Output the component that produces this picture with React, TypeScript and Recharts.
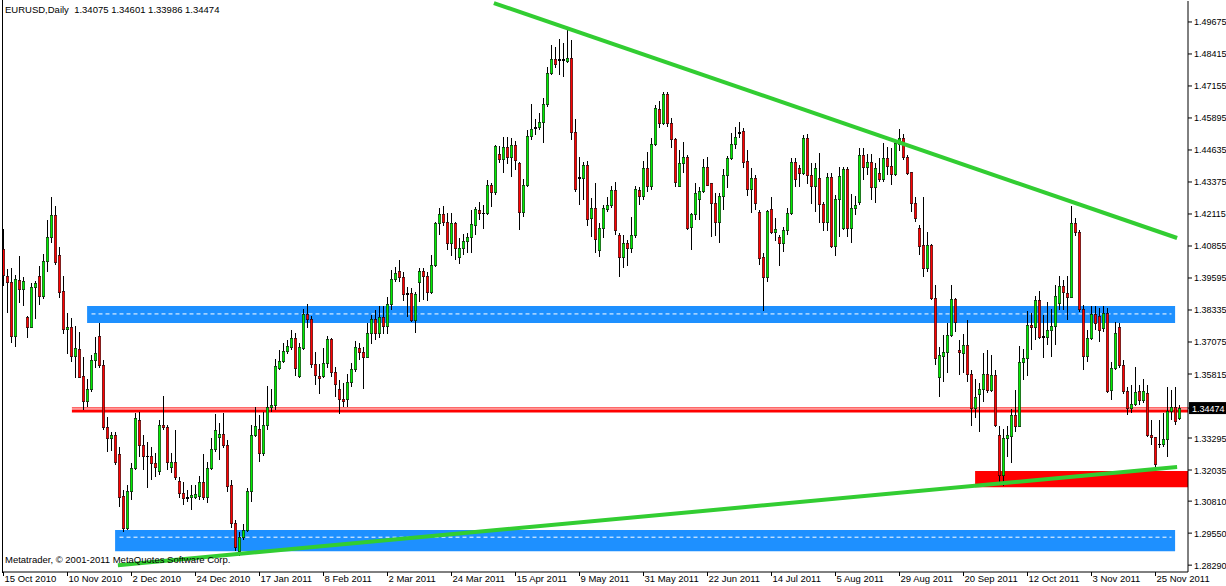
import { ComposedChart, Bar, XAxis, YAxis, ReferenceArea, ReferenceLine } from 'recharts';

const dateLabels = [
  '15 Oct 2010', '10 Nov 2010', '2 Dec 2010', '24 Dec 2010', '17 Jan 2011', '8 Feb 2011',
  '2 Mar 2011', '24 Mar 2011', '15 Apr 2011', '9 May 2011', '31 May 2011', '22 Jun 2011',
  '14 Jul 2011', '5 Aug 2011', '29 Aug 2011', '20 Sep 2011', '12 Oct 2011', '3 Nov 2011', '25 Nov 2011',
];
const dateTicks = [0, 16, 32, 48, 64, 80, 96, 112, 128, 144, 160, 176, 192, 208, 224, 240, 256, 272, 288];

const priceTicks = [
  1.49675, 1.48415, 1.47155, 1.45895, 1.44635, 1.43375, 1.42115, 1.40855, 1.39595,
  1.38335, 1.37075, 1.35815, 1.34474, 1.33295, 1.32035, 1.3081, 1.2955, 1.2829,
];
const lastBar = { open: 1.34075, high: 1.34601, low: 1.33986, close: 1.34474 };

const opens = [
  1.4074, 1.3967, 1.3944, 1.3731, 1.3951, 1.3916, 1.3806, 1.3766, 1.3924, 1.3967,
  1.3889, 1.4026, 1.4121, 1.4207, 1.4050, 1.3908, 1.3759, 1.3766, 1.3652, 1.3680,
  1.3573, 1.3475, 1.3522, 1.3636, 1.3731, 1.3617, 1.3373, 1.3329, 1.3341, 1.3266,
  1.3101, 1.2975, 1.3121, 1.3211, 1.3400, 1.3302, 1.3258, 1.3258, 1.3231, 1.3199,
  1.3380, 1.3373, 1.3215, 1.3235, 1.3160, 1.3113, 1.3097, 1.3097, 1.3097, 1.3101,
  1.3156, 1.3097, 1.3211, 1.3286, 1.3333, 1.3345, 1.3302, 1.3144, 1.2995, 1.2884,
  1.2939, 1.2967, 1.3121, 1.3341, 1.3365, 1.3270, 1.3380, 1.3451, 1.3459, 1.3605,
  1.3633, 1.3672, 1.3688, 1.3723, 1.3573, 1.3684, 1.3818, 1.3798, 1.3621, 1.3573,
  1.3573, 1.3625, 1.3719, 1.3589, 1.3522, 1.3483, 1.3483, 1.3550, 1.3601, 1.3684,
  1.3668, 1.3648, 1.3743, 1.3798, 1.3743, 1.3806, 1.3770, 1.3857, 1.3955, 1.3987,
  1.3963, 1.3896, 1.3900, 1.3794, 1.3944, 1.3987, 1.3967, 1.3904, 1.4011, 1.4176,
  1.4211, 1.4180, 1.4097, 1.4176, 1.4042, 1.4078, 1.4105, 1.4121, 1.4168, 1.4227,
  1.4215, 1.4215, 1.4326, 1.4298, 1.4448, 1.4428, 1.4475, 1.4436, 1.4483, 1.4412,
  1.4219, 1.4326, 1.4519, 1.4550, 1.4554, 1.4574, 1.4645, 1.4767, 1.4822, 1.4822,
  1.4818, 1.4814, 1.4826, 1.4534, 1.4353, 1.4353, 1.4404, 1.4196, 1.4235, 1.4070,
  1.4156, 1.4231, 1.4247, 1.4306, 1.4129, 1.4042, 1.4097, 1.4078, 1.4129, 1.4306,
  1.4282, 1.4393, 1.4322, 1.4487, 1.4625, 1.4570, 1.4684, 1.4570, 1.4507, 1.4322,
  1.4412, 1.4436, 1.4160, 1.4211, 1.4270, 1.4302, 1.4396, 1.4334, 1.4255, 1.4180,
  1.4282, 1.4365, 1.4432, 1.4487, 1.4530, 1.4538, 1.4420, 1.4310, 1.4353, 1.4219,
  1.4042, 1.3963, 1.4231, 1.4141, 1.4121, 1.4097, 1.4148, 1.4215, 1.4416, 1.4393,
  1.4373, 1.4511, 1.4365, 1.4322, 1.4353, 1.4251, 1.4180, 1.4357, 1.4085, 1.4270,
  1.4156, 1.4389, 1.4156, 1.4235, 1.4259, 1.4444, 1.4396, 1.4416, 1.4318, 1.4373,
  1.4349, 1.4432, 1.4400, 1.4369, 1.4487, 1.4511, 1.4436, 1.4377, 1.4255, 1.4156,
  1.4089, 1.3999, 1.4089, 1.3881, 1.3569, 1.3652, 1.3668, 1.3735, 1.3877, 1.3676,
  1.3664, 1.3696, 1.3581, 1.3447, 1.3503, 1.3522, 1.3581, 1.3518, 1.3577, 1.3341,
  1.3184, 1.3329, 1.3337, 1.3420, 1.3377, 1.3629, 1.3644, 1.3774, 1.3766, 1.3873,
  1.3731, 1.3727, 1.3755, 1.3770, 1.3861, 1.3928, 1.3900, 1.3885, 1.4176, 1.4141,
  1.3837, 1.3652, 1.3723, 1.3818, 1.3810, 1.3762, 1.3822, 1.3518, 1.3605, 1.3766,
  1.3617, 1.3514, 1.3447, 1.3463, 1.3514, 1.3479, 1.3507, 1.3341, 1.3333, 1.3306,
  1.3306, 1.3325, 1.3436, 1.3451, lastBar.open,
];

const closes = [
  1.3971, 1.3944, 1.3731, 1.3955, 1.3916, 1.3948, 1.3766, 1.3924, 1.3940, 1.3889,
  1.4026, 1.4121, 1.4207, 1.4022, 1.3904, 1.3759, 1.3766, 1.3652, 1.3684, 1.3569,
  1.3475, 1.3522, 1.3636, 1.3664, 1.3617, 1.3373, 1.3329, 1.3341, 1.3235, 1.3097,
  1.2975, 1.3121, 1.3211, 1.3408, 1.3302, 1.3258, 1.3257, 1.3231, 1.3215, 1.3380,
  1.3373, 1.3235, 1.3235, 1.3176, 1.3113, 1.3093, 1.3093, 1.3105, 1.3109, 1.3156,
  1.3097, 1.3211, 1.3286, 1.3361, 1.3345, 1.3302, 1.3140, 1.2995, 1.2900, 1.2939,
  1.2967, 1.3121, 1.3341, 1.3377, 1.3270, 1.3380, 1.3451, 1.3459, 1.3613, 1.3633,
  1.3672, 1.3692, 1.3723, 1.3605, 1.3688, 1.3818, 1.3798, 1.3621, 1.3577, 1.3566,
  1.3625, 1.3719, 1.3589, 1.3542, 1.3483, 1.3475, 1.3550, 1.3601, 1.3688, 1.3668,
  1.3648, 1.3743, 1.3798, 1.3743, 1.3806, 1.3770, 1.3857, 1.3955, 1.3979, 1.3963,
  1.3896, 1.3900, 1.3794, 1.3896, 1.3987, 1.3967, 1.3904, 1.4011, 1.4176, 1.4211,
  1.4180, 1.4097, 1.4176, 1.4078, 1.4078, 1.4105, 1.4121, 1.4172, 1.4231, 1.4215,
  1.4214, 1.4326, 1.4298, 1.4479, 1.4428, 1.4475, 1.4436, 1.4483, 1.4424, 1.4219,
  1.4326, 1.4519, 1.4546, 1.4554, 1.4574, 1.4645, 1.4767, 1.4822, 1.4802, 1.4818,
  1.4822, 1.4826, 1.4534, 1.4310, 1.4357, 1.4404, 1.4192, 1.4235, 1.4113, 1.4156,
  1.4235, 1.4247, 1.4306, 1.4148, 1.4042, 1.4097, 1.4078, 1.4129, 1.4310, 1.4282,
  1.4393, 1.4322, 1.4487, 1.4629, 1.4570, 1.4684, 1.4570, 1.4507, 1.4337, 1.4412,
  1.4436, 1.4156, 1.4211, 1.4294, 1.4302, 1.4396, 1.4326, 1.4255, 1.4180, 1.4282,
  1.4365, 1.4432, 1.4487, 1.4515, 1.4534, 1.4416, 1.4310, 1.4353, 1.4255, 1.4038,
  1.3963, 1.4223, 1.4141, 1.4152, 1.4097, 1.4148, 1.4215, 1.4416, 1.4349, 1.4373,
  1.4511, 1.4365, 1.4322, 1.4393, 1.4251, 1.4180, 1.4357, 1.4085, 1.4270, 1.4361,
  1.4389, 1.4156, 1.4235, 1.4247, 1.4444, 1.4396, 1.4416, 1.4318, 1.4393, 1.4349,
  1.4432, 1.4400, 1.4369, 1.4491, 1.4511, 1.4436, 1.4373, 1.4255, 1.4196, 1.4085,
  1.3999, 1.4089, 1.3881, 1.3644, 1.3656, 1.3668, 1.3735, 1.3877, 1.3786, 1.3668,
  1.3696, 1.3581, 1.3447, 1.3491, 1.3522, 1.3581, 1.3518, 1.3577, 1.3380, 1.3184,
  1.3329, 1.3341, 1.3420, 1.3377, 1.3629, 1.3644, 1.3774, 1.3766, 1.3873, 1.3727,
  1.3727, 1.3755, 1.3770, 1.3889, 1.3928, 1.3904, 1.3885, 1.4176, 1.4141, 1.3837,
  1.3652, 1.3723, 1.3818, 1.3782, 1.3755, 1.3822, 1.3514, 1.3605, 1.3743, 1.3617,
  1.3514, 1.3447, 1.3463, 1.3510, 1.3479, 1.3514, 1.3341, 1.3333, 1.3227, 1.3305,
  1.3325, 1.3436, 1.3451, 1.3396, lastBar.close,
];

const highs = [
  1.4152, 1.3995, 1.3999, 1.3971, 1.4046, 1.3963, 1.3810, 1.3940, 1.3948, 1.4007,
  1.4054, 1.4188, 1.4278, 1.4243, 1.4081, 1.3967, 1.3822, 1.3802, 1.3770, 1.3747,
  1.3648, 1.3562, 1.3656, 1.3727, 1.3782, 1.3636, 1.3412, 1.3353, 1.3353, 1.3294,
  1.3125, 1.3144, 1.3231, 1.3428, 1.3432, 1.3341, 1.3314, 1.3294, 1.3270, 1.3400,
  1.3495, 1.3380, 1.3270, 1.3361, 1.3176, 1.3156, 1.3125, 1.3144, 1.3144, 1.3180,
  1.3266, 1.3235, 1.3329, 1.3424, 1.3388, 1.3428, 1.3321, 1.3164, 1.3006, 1.2959,
  1.2991, 1.3132, 1.3380, 1.3451, 1.3420, 1.3432, 1.3534, 1.3522, 1.3640, 1.3676,
  1.3703, 1.3715, 1.3755, 1.3743, 1.3703, 1.3837, 1.3857, 1.3810, 1.3668, 1.3621,
  1.3684, 1.3731, 1.3723, 1.3609, 1.3558, 1.3546, 1.3581, 1.3625, 1.3711, 1.3703,
  1.3688, 1.3782, 1.3814, 1.3833, 1.3849, 1.3849, 1.3884, 1.3991, 1.4003, 1.4030,
  1.3983, 1.3924, 1.3920, 1.3904, 1.3999, 1.3999, 1.3983, 1.4050, 1.4180, 1.4235,
  1.4243, 1.4215, 1.4215, 1.4180, 1.4117, 1.4133, 1.4137, 1.4227, 1.4239, 1.4259,
  1.4247, 1.4345, 1.4334, 1.4483, 1.4479, 1.4515, 1.4515, 1.4511, 1.4499, 1.4416,
  1.4349, 1.4542, 1.4645, 1.4585, 1.4609, 1.4668, 1.4790, 1.4877, 1.4869, 1.4901,
  1.4885, 1.4936, 1.4897, 1.4585, 1.4436, 1.4416, 1.4420, 1.4274, 1.4334, 1.4176,
  1.4247, 1.4278, 1.4322, 1.4337, 1.4137, 1.4129, 1.4109, 1.4200, 1.4322, 1.4318,
  1.4420, 1.4456, 1.4511, 1.4641, 1.4656, 1.4692, 1.4692, 1.4589, 1.4511, 1.4463,
  1.4495, 1.4444, 1.4215, 1.4334, 1.4318, 1.4428, 1.4436, 1.4334, 1.4294, 1.4294,
  1.4389, 1.4440, 1.4530, 1.4554, 1.4574, 1.4550, 1.4463, 1.4393, 1.4365, 1.4227,
  1.4058, 1.4227, 1.4278, 1.4196, 1.4129, 1.4160, 1.4235, 1.4432, 1.4432, 1.4404,
  1.4522, 1.4526, 1.4412, 1.4412, 1.4452, 1.4259, 1.4373, 1.4373, 1.4286, 1.4396,
  1.4396, 1.4396, 1.4290, 1.4282, 1.4471, 1.4471, 1.4448, 1.4448, 1.4412, 1.4432,
  1.4491, 1.4475, 1.4471, 1.4499, 1.4546, 1.4526, 1.4444, 1.4377, 1.4278, 1.4168,
  1.4278, 1.4141, 1.4093, 1.3932, 1.3688, 1.3735, 1.3782, 1.3932, 1.3881, 1.3715,
  1.3739, 1.3794, 1.3597, 1.3562, 1.3546, 1.3664, 1.3676, 1.3656, 1.3597, 1.3377,
  1.3365, 1.3377, 1.3444, 1.3518, 1.3692, 1.3680, 1.3829, 1.3822, 1.3889, 1.3908,
  1.3814, 1.3865, 1.3837, 1.3932, 1.3967, 1.3951, 1.3967, 1.4243, 1.4196, 1.4148,
  1.3853, 1.3755, 1.3849, 1.3849, 1.3841, 1.3849, 1.3841, 1.3629, 1.3786, 1.3782,
  1.3636, 1.3530, 1.3538, 1.3609, 1.3538, 1.3562, 1.3538, 1.3400, 1.3333, 1.3400,
  1.3428, 1.3530, 1.3518, 1.3530, lastBar.high,
];

const lows = [
  1.3928, 1.3822, 1.3703, 1.3688, 1.3861, 1.3849, 1.3723, 1.3762, 1.3798, 1.3853,
  1.3877, 1.3983, 1.4097, 1.4011, 1.3881, 1.3739, 1.3660, 1.3629, 1.3566, 1.3566,
  1.3440, 1.3451, 1.3510, 1.3605, 1.3605, 1.3361, 1.3274, 1.3278, 1.3223, 1.3058,
  1.2959, 1.2967, 1.3085, 1.3203, 1.3254, 1.3203, 1.3132, 1.3164, 1.3176, 1.3184,
  1.3361, 1.3203, 1.3191, 1.3164, 1.3093, 1.3065, 1.3077, 1.3046, 1.3089, 1.3085,
  1.3085, 1.3073, 1.3203, 1.3274, 1.3243, 1.3290, 1.3117, 1.2975, 1.2884, 1.2865,
  1.2928, 1.2959, 1.3077, 1.3333, 1.3235, 1.3258, 1.3361, 1.3432, 1.3440, 1.3597,
  1.3625, 1.3660, 1.3676, 1.3573, 1.3566, 1.3676, 1.3762, 1.3605, 1.3538, 1.3503,
  1.3566, 1.3605, 1.3569, 1.3491, 1.3424, 1.3451, 1.3451, 1.3530, 1.3589, 1.3636,
  1.3522, 1.3644, 1.3699, 1.3715, 1.3723, 1.3739, 1.3739, 1.3833, 1.3944, 1.3944,
  1.3869, 1.3806, 1.3786, 1.3743, 1.3865, 1.3873, 1.3869, 1.3896, 1.4003, 1.4129,
  1.4164, 1.4070, 1.4046, 1.4030, 1.4014, 1.4050, 1.4058, 1.4058, 1.4129, 1.4188,
  1.4152, 1.4207, 1.4239, 1.4286, 1.4412, 1.4373, 1.4408, 1.4357, 1.4385, 1.4148,
  1.4200, 1.4318, 1.4503, 1.4522, 1.4542, 1.4491, 1.4633, 1.4759, 1.4786, 1.4759,
  1.4751, 1.4806, 1.4503, 1.4298, 1.4247, 1.4266, 1.4164, 1.4121, 1.4058, 1.4042,
  1.4117, 1.4219, 1.4235, 1.4129, 1.3963, 1.3999, 1.4007, 1.4058, 1.4117, 1.4247,
  1.4266, 1.4298, 1.4306, 1.4479, 1.4550, 1.4562, 1.4554, 1.4471, 1.4318, 1.4318,
  1.4373, 1.4148, 1.4070, 1.4188, 1.4188, 1.4294, 1.4322, 1.4121, 1.4125, 1.4097,
  1.4227, 1.4314, 1.4424, 1.4467, 1.4511, 1.4393, 1.4282, 1.4215, 1.4227, 1.4011,
  1.3829, 1.3944, 1.4133, 1.4105, 1.4007, 1.4062, 1.4129, 1.4207, 1.4318, 1.4318,
  1.4365, 1.4329, 1.4251, 1.4219, 1.4176, 1.4144, 1.4144, 1.4078, 1.4046, 1.4121,
  1.4148, 1.4121, 1.4097, 1.4207, 1.4247, 1.4345, 1.4365, 1.4266, 1.4255, 1.4337,
  1.4337, 1.4365, 1.4326, 1.4361, 1.4460, 1.4424, 1.4365, 1.4219, 1.4180, 1.4050,
  1.3963, 1.3983, 1.3873, 1.3617, 1.3491, 1.3550, 1.3585, 1.3727, 1.3747, 1.3577,
  1.3585, 1.3550, 1.3377, 1.3408, 1.3353, 1.3471, 1.3507, 1.3510, 1.3373, 1.3152,
  1.3140, 1.3254, 1.3231, 1.3353, 1.3373, 1.3558, 1.3573, 1.3676, 1.3715, 1.3719,
  1.3644, 1.3696, 1.3648, 1.3696, 1.3833, 1.3833, 1.3794, 1.3881, 1.4125, 1.3825,
  1.3597, 1.3629, 1.3715, 1.3755, 1.3707, 1.3747, 1.3507, 1.3479, 1.3597, 1.3605,
  1.3503, 1.3420, 1.3428, 1.3455, 1.3459, 1.3467, 1.3333, 1.3302, 1.3215, 1.3290,
  1.3294, 1.3254, 1.3400, 1.3380, lastBar.low,
];

const candles = opens.map((open, i) => ({
  i,
  open,
  close: closes[i],
  high: highs[i],
  low: lows[i],
  range: [lows[i], highs[i]],
}));

const FONT = '"Liberation Sans", Arial, sans-serif';

function Candle(props: any) {
  const { x, y, width, height, payload } = props;
  if (!payload) return null;
  const { open, close, high, low } = payload;
  const cx = Math.floor(x + width / 2);
  const k = high > low ? height / (high - low) : 0;
  const toY = (p: number) => y + (high - p) * k;
  const top = Math.round(toY(Math.max(open, close)));
  const bot = Math.round(toY(Math.min(open, close)));
  const wTop = Math.round(y);
  const wBot = Math.round(y + height);
  const up = close >= open;
  const bodyH = bot - top;
  return (
    <g>
      <rect x={cx} y={wTop} width={1} height={Math.max(wBot - wTop, 1)} fill="#000" />
      {bodyH > 1 ? (
        <rect
          x={cx - 0.75}
          y={top + 0.25}
          width={2.5}
          height={bodyH + 0.5}
          fill={up ? '#00ee00' : '#ff0000'}
          stroke="#000"
          strokeWidth={0.5}
        />
      ) : (
        <rect x={cx - 1} y={top} width={3} height={Math.max(bodyH + 1, 1)} fill="#000" />
      )}
    </g>
  );
}

function PriceTick(props: any) {
  const { x, y, payload } = props;
  const v = payload.value as number;
  if (Math.abs(v - lastBar.close) < 1e-7) {
    return (
      <g>
        <rect x={1189} y={y - 6} width={37} height={12} fill="#000" />
        <text x={1192} y={y + 3.5} fill="#fff" fontSize={9} fontFamily={FONT}>
          {v.toFixed(5)}
        </text>
      </g>
    );
  }
  return (
    <text x={x} y={y + 3.5} fill="#000" fontSize={9} fontFamily={FONT}>
      {v.toFixed(5)}
    </text>
  );
}

function DateTick(props: any) {
  const { x, y, payload } = props;
  const idx = dateTicks.indexOf(payload.value);
  return (
    <text x={x + 1} y={y + 4} fill="#000" fontSize={9.5} fontFamily={FONT}>
      {dateLabels[idx] ?? ''}
    </text>
  );
}

export default function App() {
  return (
    <div style={{ position: 'relative', width: 1226, height: 586, background: '#fff', overflow: 'hidden' }}>
      <style>{`body { margin: 0; }`}</style>
      <ComposedChart width={1226} height={586} data={candles} margin={{ top: 1, right: 0, left: 2, bottom: 0 }}>
        <XAxis
          dataKey="i"
          type="number"
          domain={[-0.375, 296.125]}
          allowDataOverflow
          ticks={dateTicks}
          interval={0}
          height={14}
          tickSize={4}
          tickMargin={2}
          stroke="#000"
          tick={<DateTick />}
        />
        <YAxis
          orientation="right"
          type="number"
          domain={[1.2802, 1.505]}
          allowDataOverflow
          ticks={priceTicks}
          interval={0}
          width={38}
          tickSize={4}
          tickMargin={2}
          stroke="#000"
          tick={<PriceTick />}
        />

        <ReferenceArea x1={20.9} x2={292.9} y1={1.3782} y2={1.3849} fill="#1e90ff" fillOpacity={1} stroke="none" zIndex={50} />
        <ReferenceArea x1={27.9} x2={292.9} y1={1.2884} y2={1.2967} fill="#1e90ff" fillOpacity={1} stroke="none" zIndex={50} />
        <ReferenceArea x1={242.9} x2={296.125} y1={1.3136} y2={1.3200} fill="#ff0000" fillOpacity={1} stroke="none" zIndex={50} />

        <ReferenceLine segment={[{ x: 22, y: 1.3818 }, { x: 292, y: 1.3818 }]} stroke="#fff" strokeDasharray="4 3" strokeWidth={1} zIndex={60} />
        <ReferenceLine segment={[{ x: 29, y: 1.2939 }, { x: 292, y: 1.2939 }]} stroke="#fff" strokeDasharray="4 3" strokeWidth={1} zIndex={60} />
        <ReferenceLine segment={[{ x: 17.1, y: 1.3448 }, { x: 296.125, y: 1.3448 }]} stroke="#ff0000" strokeWidth={1} zIndex={60} />
        <ReferenceLine segment={[{ x: 17.1, y: 1.3436 }, { x: 296.125, y: 1.3436 }]} stroke="#ff0000" strokeWidth={3} zIndex={60} />

        <Bar dataKey="range" barSize={3} shape={<Candle />} isAnimationActive={false} />

        <ReferenceLine segment={[{ x: 122.6, y: 1.5042 }, { x: 293.4, y: 1.4117 }]} stroke="#32cd32" strokeWidth={4} zIndex={450} />
        <ReferenceLine segment={[{ x: 28.6, y: 1.2829 }, { x: 293.4, y: 1.3215 }]} stroke="#32cd32" strokeWidth={4} zIndex={450} />
      </ComposedChart>

      <div style={{ position: 'absolute', left: 2, top: 0, width: 1, height: 573, background: '#000' }} />
      <div
        style={{ position: 'absolute', left: 5, top: 4, fontSize: 9.5, fontFamily: FONT, color: '#000', whiteSpace: 'pre', lineHeight: '12px' }}
      >
        {'EURUSD,Daily  1.34075 1.34601 1.33986 1.34474'}
      </div>
      <div
        style={{ position: 'absolute', left: 5, top: 554, fontSize: 9.5, fontFamily: FONT, color: '#000', whiteSpace: 'pre', lineHeight: '12px' }}
      >
        {'Metatrader, \u00a9 2001-2011 MetaQuotes Software Corp.'}
      </div>
    </div>
  );
}
